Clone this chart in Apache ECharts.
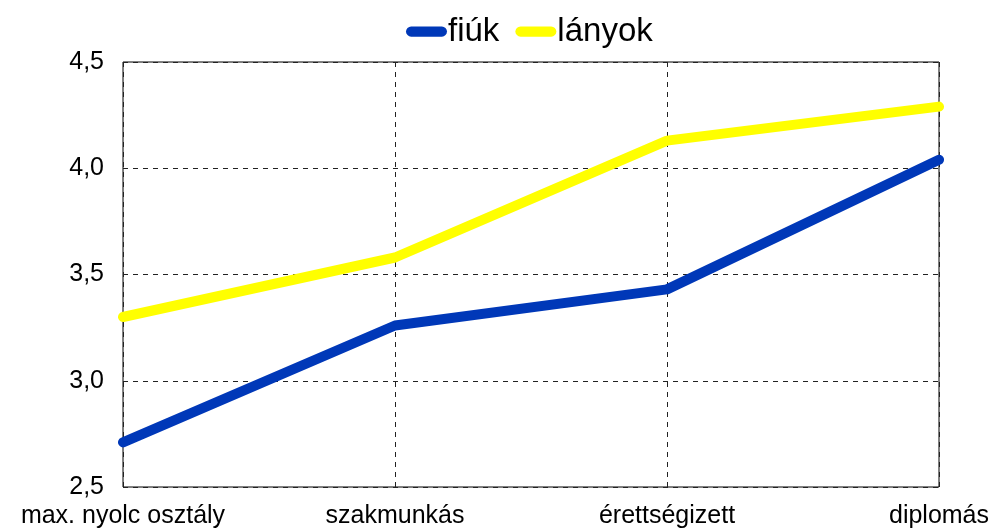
<!DOCTYPE html>
<html>
<head>
<meta charset="utf-8">
<script src="https://cdn.jsdelivr.net/npm/echarts@6/dist/echarts.min.js"></script>
<style>
  html, body { margin: 0; padding: 0; background: #fff; }
  #chart { width: 993px; height: 529px; }
</style>
</head>
<body>
<div id="chart"></div>
<script>
// categories and values
const categories = ["max. nyolc osztály", "szakmunkás", "érettségizett", "diplomás"];
const fiuk = [2.71, 3.26, 3.43, 4.04];
const lanyok = [3.30, 3.58, 4.13, 4.29];
const yTicks = [2.5, 3.0, 3.5, 4.0, 4.5];

const chart = echarts.init(document.getElementById("chart"));
const dashed = { color: "#222", type: [5, 5], width: 1 };
const capsule = "path://M5,0 H35 A5,5 0 0 1 35,10 H5 A5,5 0 0 1 5,0 Z";

chart.setOption({
  animation: false,
  textStyle: { fontFamily: "Liberation Sans, Arial, sans-serif" },
  legend: {
    left: 401,
    top: 10,
    itemWidth: 41,
    itemHeight: 11,
    itemGap: 16,
    textStyle: { fontSize: 33, color: "#000", padding: [0, 0, 0, -4] },
    data: [
      { name: "fiúk", icon: capsule },
      { name: "lányok", icon: capsule }
    ]
  },
  grid: {
    left: 123,
    right: 54,
    top: 62,
    bottom: 42,
    show: true,
    borderColor: "#000",
    borderWidth: 1
  },
  xAxis: {
    type: "category",
    data: categories,
    boundaryGap: false,
    axisLine: { show: false },
    axisTick: { show: false },
    axisLabel: { color: "#000", fontSize: 25, margin: 17 },
    splitLine: { show: true, lineStyle: dashed }
  },
  yAxis: {
    type: "value",
    min: yTicks[0],
    max: yTicks[yTicks.length - 1],
    interval: 0.5,
    axisLine: { show: false },
    axisTick: { show: false },
    axisLabel: {
      color: "#000",
      fontSize: 25,
      margin: 19,
      formatter: v => v.toFixed(1).replace(".", ",")
    },
    splitLine: { show: true, lineStyle: dashed }
  },
  series: [
    {
      name: "fiúk",
      type: "line",
      data: fiuk,
      showSymbol: false,
      symbol: "none",
      color: "#0038b8",
      lineStyle: { width: 10, color: "#0038b8", cap: "round", join: "round" }
    },
    {
      name: "lányok",
      type: "line",
      data: lanyok,
      showSymbol: false,
      symbol: "none",
      color: "#ffff00",
      lineStyle: { width: 10, color: "#ffff00", cap: "round", join: "round" }
    }
  ]
});
</script>
</body>
</html>
